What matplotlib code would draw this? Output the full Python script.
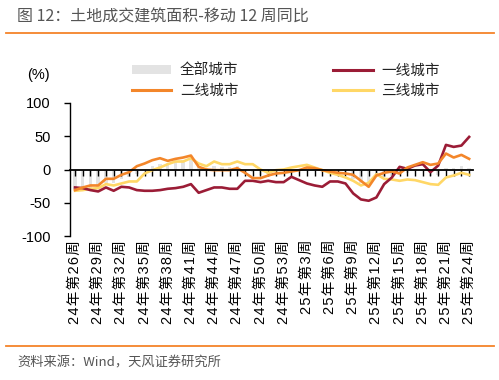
import matplotlib
matplotlib.use("Agg")
import matplotlib.pyplot as plt
from matplotlib.lines import Line2D
from matplotlib.patches import Patch

# ---- data ----
weeks_24 = [f"24年第{w}周" for w in range(26, 54)]
weeks_25 = [f"25年第{w}周" for w in range(1, 25)]
categories = weeks_24 + weeks_25

all_cities = [-30, -29, -28, -27, -20, -20, -15, -12, -7, 0, 5, 9, 10, 13, 14, 17,
              6, 3, 5, 4, 4, 6, 1, -4, -8, -7, -4, -3, -2, 0, 4, 2, -1, -4, -6, -9,
              -14, -20, -24, -10, -11, -10, -8, -5, -3, -3, -10, -8, 3, 2, 5, 2]
tier1 = [-27, -28, -31, -33, -27, -32, -26, -27, -31, -32, -32, -31, -29, -28, -26, -22,
         -35, -31, -27, -27, -29, -29, -17, -17, -19, -17, -19, -19, -11, -16, -21, -24,
         -26, -18, -18, -21, -36, -45, -47, -42, -22, -12, 4, 1, 6, 8, -4, 6, 37, 34, 36, 49]
tier2 = [-31, -27, -24, -24, -14, -14, -8, -4, 5, 9, 14, 17, 13, 16, 18, 21,
         4, 0, -1, -1, -1, 2, -5, -13, -13, -9, -6, -5, -3, -1, 3, 2, -1, -3, -5, -6,
         -8, -17, -26, -9, -5, -3, -6, 3, 7, 11, 7, 9, 24, 18, 22, 16]
tier3 = [-32, -31, -29, -28, -22, -24, -21, -18, -18, -6, -1, 3, 8, 12, 12, 17,
         9, 5, 12, 8, 8, 12, 8, 8, 0, -5, -1, 0, 3, 5, 7, 3, -1, -5, -8, -12,
         -17, -24, -20, -7, -14, -15, -17, -15, -16, -19, -22, -23, -12, -9, -5, -8]
series_names = ["全部城市", "一线城市", "二线城市", "三线城市"]
yticks = [-100, -50, 0, 50, 100]

c_all = "#e3e3e3"
c1 = "#9b1c36"
c2 = "#f3862a"
c3 = "#ffd766"

W, H = 499, 380
fig = plt.figure(figsize=(W / 100, H / 100), dpi=100)
fig.patch.set_facecolor("white")

cjk = ["Noto Sans CJK SC", "DejaVu Sans"]
num = ["Liberation Sans", "Noto Sans CJK SC", "DejaVu Sans"]

ax = fig.add_axes([70 / W, 1 - 236 / H, (473 - 70) / W, (236 - 103) / H])
x = list(range(len(categories)))
ax.bar(x, all_cities, width=0.45, color=c_all, zorder=1)
ax.plot(x, tier1, color=c1, lw=1.9, zorder=3, solid_joinstyle="round")
ax.plot(x, tier2, color=c2, lw=1.9, zorder=4, solid_joinstyle="round")
ax.plot(x, tier3, color=c3, lw=1.9, zorder=2, solid_joinstyle="round")

ax.set_xlim(-0.65, 51.5)
ax.set_ylim(-100, 100)
for s in ["top", "right"]:
    ax.spines[s].set_visible(False)
ax.spines["bottom"].set_position(("data", 0))
ax.spines["bottom"].set_linewidth(1.3)
ax.spines["bottom"].set_zorder(5)
ax.spines["left"].set_linewidth(1.0)
ax.set_xticks(x)
ax.set_xticklabels([""] * len(x))
ax.tick_params(axis="x", direction="out", length=4, width=1.0, color="black")
ax.set_yticks(yticks)
ax.set_yticklabels([str(v) for v in yticks], fontfamily=num, fontsize=10.5)
ax.tick_params(axis="y", direction="out", length=4, width=1.0, pad=10)

trans = ax.get_xaxis_transform()
for i in range(0, len(categories), 3):
    spaced = "\u200a".join(list(categories[i]))
    ax.text(i, -0.03, spaced, transform=trans, rotation=90, ha="center", va="top",
            fontsize=10.5, family=num, color="black")

fig.text(27 / W, 1 - 75 / H, "(%)", fontsize=10.5, family=num, va="center", ha="left")

handles = [Patch(facecolor=c_all, edgecolor="none"),
           Line2D([], [], color=c2, lw=2.2),
           Line2D([], [], color=c1, lw=2.2),
           Line2D([], [], color=c3, lw=2.2)]
labels = [series_names[0], series_names[2], series_names[1], series_names[3]]
leg = fig.legend(handles, labels, ncol=2, loc="center", bbox_to_anchor=(286 / W, 1 - 81 / H),
                 frameon=False, prop={"family": cjk, "size": 10.5}, handlelength=2.7,
                 handleheight=0.6, handletextpad=0.6, columnspacing=6.5, labelspacing=0.45)
for t in leg.get_texts():
    t.set_color("#222222")

# title and footer
fig.text(17 / W, 1 - 17 / H, "图 12：土地成交建筑面积-移动 12 周同比", fontsize=11.5,
         family=cjk, color="#555555", va="center", ha="left")
fig.add_artist(Line2D([6 / W, 494 / W], [1 - 32.5 / H, 1 - 32.5 / H], color="#f5842a", lw=1.3))
fig.add_artist(Line2D([6 / W, 494 / W], [1 - 346 / H, 1 - 346 / H], color="#f5842a", lw=1.3))
fig.text(17 / W, 1 - 363 / H, "资料来源：Wind，天风证券研究所", fontsize=9.5,
         family=cjk, color="#555555", va="center", ha="left")

fig.savefig("out.png", dpi=100, facecolor="white")
